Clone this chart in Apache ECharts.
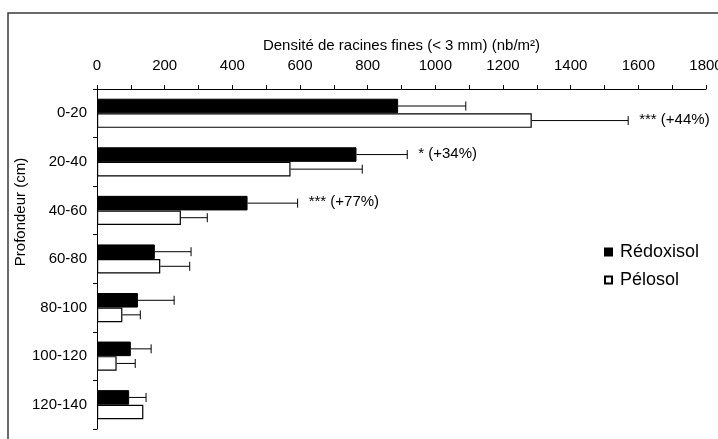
<!DOCTYPE html>
<html><head><meta charset="utf-8">
<script src="https://cdn.jsdelivr.net/npm/echarts@6/dist/echarts.min.js"></script>
<style>html,body{margin:0;padding:0;background:#fff}#c{width:718px;height:439px}</style>
</head><body><div id="c"></div>
<script>
const categories = ['0-20', '20-40', '40-60', '60-80', '80-100', '100-120', '120-140'];
const redoxisol = [890, 767, 445, 171, 121, 100, 95];
const redoxisolErr = [200, 150, 148, 107, 107, 60, 50];
const pelosol = [1285, 572, 248, 187, 75, 58, 137];
const pelosolErr = [285, 212, 78, 87, 53, 55, 0];
const redoxisolNotes = ['', '* (+34%)', '*** (+77%)', '', '', '', ''];
const pelosolNotes = ['*** (+44%)', '', '', '', '', '', ''];
const axisMin = 0, axisMax = 1800, axisStep = 200;

const FONT = "'Liberation Sans', Arial, sans-serif";
const GAP = 0.4;

function errRender(values, errs, notes, sign) {
  return function (params, api) {
    const i = params.dataIndex;
    const v = values[i], err = errs[i], note = notes[i];
    const band = api.size([0, 1])[1];
    const bw = band * (1 - GAP) / 2;
    const c = api.coord([v, i]);
    const y = c[1] + sign * bw / 2;
    const x1 = c[0];
    const x2 = api.coord([v + err, i])[0];
    const children = [];
    if (err > 0) {
      children.push({type: 'line', shape: {x1: x1, y1: y, x2: x2, y2: y}, style: {stroke: '#000', lineWidth: 1}});
      children.push({type: 'line', shape: {x1: x2, y1: y - 4.5, x2: x2, y2: y + 4.5}, style: {stroke: '#000', lineWidth: 1}});
    }
    if (note) {
      children.push({type: 'text', x: x2 + 11, y: y - 1, style: {text: note, fill: '#000', font: '15px ' + FONT, verticalAlign: 'middle', align: 'left'}});
    }
    return {type: 'group', children: children};
  };
}

const chart = echarts.init(document.getElementById('c'), null, {renderer: 'canvas'});
chart.setOption({
  animation: false,
  backgroundColor: '#fff',
  textStyle: {fontFamily: FONT, color: '#000'},
  grid: {left: 97, right: 12, top: 89, bottom: 10, containLabel: false, outerBoundsMode: 'none'},
  graphic: [
    {type: 'rect', shape: {x: 8, y: 13, width: 730, height: 450}, style: {fill: 'none', stroke: '#3a3a3a', lineWidth: 1.5}, z: 100},
    {type: 'text', x: 21, y: 212, rotation: Math.PI / 2, style: {text: 'Profondeur (cm)', font: '15px ' + FONT, fill: '#000', align: 'center', verticalAlign: 'middle'}}
  ],
  legend: {
    data: ['Rédoxisol', 'Pélosol'],
    orient: 'vertical', left: 604, top: 243, padding: 0, itemWidth: 7, itemHeight: 7, itemGap: 10,
    icon: 'rect',
    textStyle: {fontSize: 18, lineHeight: 18, color: '#000', fontFamily: FONT, padding: [0, 0, 0, 3]}
  },
  xAxis: {
    type: 'value', position: 'top', min: axisMin, max: axisMax, interval: axisStep,
    name: 'Densité de racines fines (< 3 mm) (nb/m²)', nameLocation: 'middle', nameGap: 36,
    nameTextStyle: {fontSize: 15, color: '#000', fontFamily: FONT},
    axisLine: {show: true, lineStyle: {color: '#000', width: 1}},
    axisTick: {show: true, length: 4, lineStyle: {color: '#000'}},
    minorTick: {show: true, splitNumber: 2, length: 4, lineStyle: {color: '#000'}},
    axisLabel: {fontSize: 15, color: '#000', margin: 16, fontFamily: FONT, showMaxLabel: true, formatter: v => String(v)},
    splitLine: {show: false}, minorSplitLine: {show: false}
  },
  yAxis: {
    type: 'category', data: categories, inverse: true,
    axisLine: {show: true, lineStyle: {color: '#000', width: 1}},
    axisTick: {show: true, length: 4, lineStyle: {color: '#000'}},
    axisLabel: {fontSize: 15, color: '#000', margin: 10, fontFamily: FONT},
    splitLine: {show: false}
  },
  series: [
    {name: 'Rédoxisol', type: 'bar', data: redoxisol, barGap: '0%', barCategoryGap: '40%',
     itemStyle: {color: '#000', borderColor: '#000', borderWidth: 1}},
    {name: 'Pélosol', type: 'bar', data: pelosol, barGap: '0%', barCategoryGap: '40%',
     itemStyle: {color: '#fff', borderColor: '#000', borderWidth: 1.2}},
    {type: 'custom', name: 'errR', data: redoxisol.map((v, i) => [v, i]), encode: {x: 0, y: 1},
     renderItem: errRender(redoxisol, redoxisolErr, redoxisolNotes, -1), z: 5, silent: true},
    {type: 'custom', name: 'errP', data: pelosol.map((v, i) => [v, i]), encode: {x: 0, y: 1},
     renderItem: errRender(pelosol, pelosolErr, pelosolNotes, 1), z: 5, silent: true}
  ]
});
</script></body></html>
